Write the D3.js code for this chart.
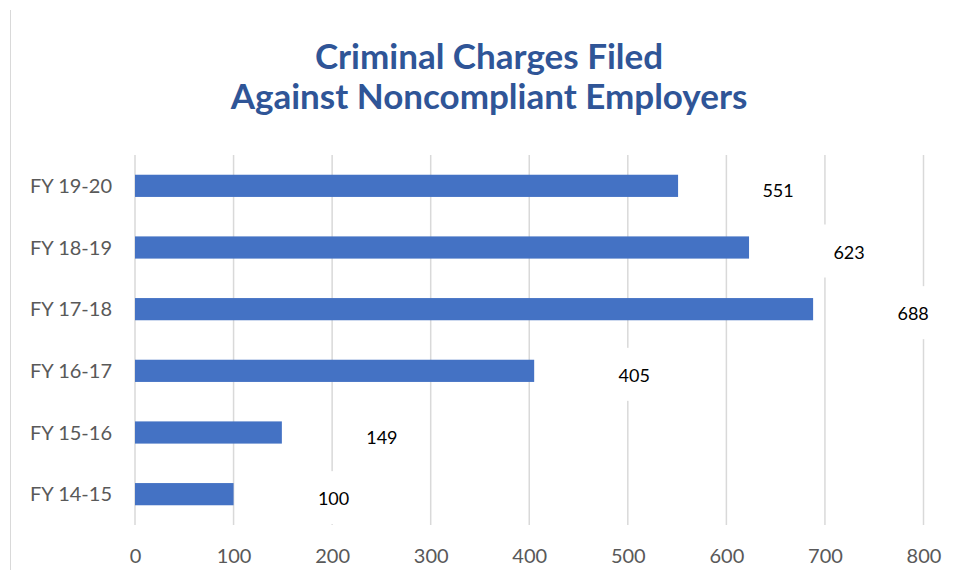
<!DOCTYPE html>
<html>
<head>
<meta charset="utf-8">
<script src="https://cdn.jsdelivr.net/npm/d3@7"></script>
<style>
  body { margin: 0; background: #fff; }
  svg { display: block; font-family: Lato, "Open Sans", sans-serif; }
</style>
</head>
<body>
<svg id="chart" width="961" height="570"></svg>
<script>
// data
var categories = ["FY 19-20", "FY 18-19", "FY 17-18", "FY 16-17", "FY 15-16", "FY 14-15"];
var values = [551, 623, 688, 405, 149, 100];
var xTicks = [0, 100, 200, 300, 400, 500, 600, 700, 800];
var titleLines = ["Criminal Charges Filed", "Against Noncompliant Employers"];

var svg = d3.select("#chart");
var margin = {top: 155, left: 135, right: 37.5, bottom: 45};
var W = 961, H = 570;

var x = d3.scaleLinear().domain([0, 800]).range([margin.left, W - margin.right]);
var y = d3.scaleBand().domain(categories).range([margin.top, H - margin.bottom]).paddingInner(0.64).paddingOuter(0.32);

// chart area border on the left
svg.append("line")
    .attr("x1", 10.5).attr("x2", 10.5)
    .attr("y1", 10).attr("y2", H)
    .attr("stroke", "#d9d9d9").attr("stroke-width", 1);

// title
svg.append("text")
    .attr("x", 488).attr("y", 69)
    .attr("text-anchor", "middle")
    .attr("fill", "#2F5597")
    .style("font-size", "35px").style("font-weight", "bold")
    .selectAll("tspan").data(titleLines).enter().append("tspan")
    .attr("x", 489)
    .attr("dy", function(d, i) { return i == 0 ? 0 : 40; })
    .text(function(d) { return d; });

// gridlines
svg.append("g").selectAll("line").data(xTicks).enter().append("line")
    .attr("x1", function(d) { return x(d); })
    .attr("x2", function(d) { return x(d); })
    .attr("y1", margin.top).attr("y2", H - margin.bottom)
    .attr("stroke", "#d9d9d9").attr("stroke-width", 1.5);

// x axis labels (no axis line)
var xAxis = d3.axisBottom(x).tickValues(xTicks).tickSize(0).tickPadding(0);
var gx = svg.append("g").attr("transform", "translate(0," + (H - margin.bottom) + ")").call(xAxis);
gx.select(".domain").remove();
gx.selectAll("text")
    .attr("y", 38).attr("dy", null)
    .attr("fill", "#595959")
    .style("font-size", "20px").style("font-family", "Lato, sans-serif");

// y axis labels
var yAxis = d3.axisLeft(y).tickSize(0).tickPadding(0);
var gy = svg.append("g").attr("transform", "translate(" + margin.left + ",0)").call(yAxis);
gy.select(".domain").remove();
gy.selectAll("text")
    .attr("x", -23).attr("dy", "0.35em")
    .attr("fill", "#595959")
    .style("font-size", "20px").style("font-family", "Lato, sans-serif");

// bars
svg.append("g").selectAll("rect").data(values).enter().append("rect")
    .attr("x", x(0))
    .attr("y", function(d, i) { return y(categories[i]); })
    .attr("width", function(d) { return x(d) - x(0); })
    .attr("height", y.bandwidth())
    .attr("fill", "#4472C4");

// value labels, offset to the right with white boxes that cut the gridlines
var lab = svg.append("g").selectAll("g").data(values).enter().append("g")
    .attr("transform", function(d, i) {
        return "translate(" + (x(d) + 100) + "," + (y(categories[i]) + y.bandwidth() / 2) + ")";
    });
lab.append("rect")
    .attr("x", -33).attr("y", -23)
    .attr("width", 66).attr("height", 53)
    .attr("fill", "#fff");
lab.append("text")
    .attr("text-anchor", "middle")
    .attr("y", 11)
    .attr("fill", "#000")
    .style("font-size", "18px")
    .text(function(d) { return d; });
</script>
</body>
</html>
